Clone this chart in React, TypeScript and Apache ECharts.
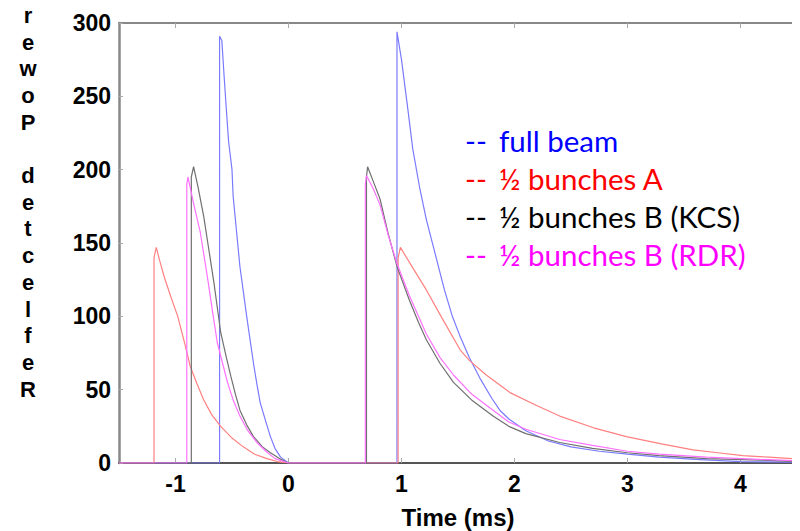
import React, { useEffect, useRef } from "react";
import * as echarts from "echarts";

// time (ms), reflected power
const fullBeam: [number, number][] = [
  [-1.5, 0], [-0.61, 0], [-0.61, 291], [-0.59, 288], [-0.57, 264], [-0.55, 241], [-0.53, 219],
  [-0.50, 200], [-0.49, 182], [-0.47, 166], [-0.43, 134], [-0.40, 117], [-0.37, 100],
  [-0.34, 84], [-0.31, 68], [-0.28, 54], [-0.25, 41], [-0.20, 28], [-0.16, 18], [-0.12, 10],
  [-0.07, 4], [0, 0],
  [0.96, 0], [0.96, 294], [1.0, 275], [1.05, 245], [1.1, 214], [1.16, 188], [1.22, 166],
  [1.31, 139], [1.38, 118], [1.45, 100], [1.52, 86], [1.6, 72], [1.7, 57], [1.8, 44],
  [1.87, 36], [1.95, 30], [2.1, 22], [2.3, 15], [2.5, 11], [2.75, 8], [3.0, 6], [3.28, 4],
  [3.6, 2.5], [4.0, 1], [4.5, 0.5],
];
const halfBunchesA: [number, number][] = [
  [-1.5, 0], [-1.19, 0], [-1.19, 140], [-1.17, 147], [-1.14, 138], [-1.10, 127], [-1.04, 113],
  [-0.98, 100], [-0.92, 82], [-0.87, 66], [-0.81, 54], [-0.75, 43], [-0.68, 33], [-0.60, 25],
  [-0.50, 17], [-0.40, 11], [-0.30, 6], [-0.19, 3], [-0.10, 1], [0, 0],
  [0.97, 0], [0.97, 140], [0.99, 147], [1.1, 133], [1.22, 118], [1.35, 100], [1.52, 77],
  [1.6, 70], [1.75, 60], [1.96, 48], [2.2, 39], [2.4, 32], [2.7, 24], [2.99, 18], [3.3, 13],
  [3.58, 9], [3.8, 7], [4.02, 5], [4.25, 4], [4.46, 3], [4.5, 3],
];
const halfBunchesBKCS: [number, number][] = [
  [-1.5, 0], [-0.86, 0], [-0.86, 195], [-0.84, 202], [-0.80, 188], [-0.75, 168], [-0.70, 143],
  [-0.66, 123], [-0.60, 89], [-0.55, 72], [-0.51, 59], [-0.47, 47], [-0.43, 36], [-0.37, 26],
  [-0.31, 18], [-0.23, 11], [-0.16, 7], [-0.08, 3], [0, 0],
  [0.69, 0], [0.69, 195], [0.70, 202], [0.75, 192], [0.81, 180], [0.88, 157], [0.96, 134],
  [1.07, 111], [1.15, 96], [1.22, 84], [1.34, 68], [1.46, 55], [1.62, 43], [1.81, 32],
  [1.95, 25], [2.1, 20], [2.4, 14], [2.69, 10], [3.0, 7], [3.28, 5], [3.7, 3], [4.17, 2],
  [4.5, 1],
];
const halfBunchesBRDR: [number, number][] = [
  [-1.5, 0], [-0.90, 0], [-0.90, 190], [-0.89, 195], [-0.84, 177], [-0.78, 157], [-0.71, 123],
  [-0.67, 102], [-0.63, 82], [-0.58, 67], [-0.54, 55], [-0.49, 43], [-0.43, 32], [-0.36, 22],
  [-0.28, 14], [-0.20, 8], [-0.12, 3], [0, 0],
  [0.68, 0], [0.68, 190], [0.69, 196], [0.75, 187], [0.81, 176], [0.88, 156], [0.96, 136],
  [1.07, 114], [1.15, 100], [1.22, 88], [1.34, 72], [1.46, 60], [1.62, 47], [1.81, 36],
  [1.95, 28], [2.1, 23], [2.4, 16], [2.69, 12], [3.0, 8], [3.28, 6], [3.7, 4], [4.17, 2.5],
  [4.5, 1.5],
];

const xTicks = [-1, 0, 1, 2, 3, 4];
const legendLabels = ["full beam", "\u00bd bunches A", "\u00bd bunches B (KCS)", "\u00bd bunches B (RDR)"];
const legendColors = ["#0000ff", "#ff0000", "#000000", "#ff00ff"];
const lineColors = ["#7a7aff", "#ff8080", "#707070", "#ff70ff"];
const seriesData = [fullBeam, halfBunchesA, halfBunchesBKCS, halfBunchesBRDR];
const yTitle = "Reflected Power";
const xTitle = "Time (ms)";

export default function App() {
  const ref = useRef<HTMLDivElement>(null);
  useEffect(() => {
    if (!ref.current) return;
    const chart = echarts.init(ref.current, null, { renderer: "svg" });
    const labelFont = {
      fontFamily: "Liberation Sans",
      fontWeight: "bold" as const,
      fontSize: 23,
      color: "#000",
    };
    const stacked = yTitle.split("").reverse().join("").split(" ").map((w) => w.split("").join("\n")).join("\n\n");
    const legendGraphics: any[] = [];
    legendLabels.forEach((lab, i) => {
      const y = 142 + i * 38.3;
      legendGraphics.push({
        type: "text", left: 465, top: y - 17,
        style: { text: "--", fill: legendColors[i], font: "29.5px Lato" },
      });
      legendGraphics.push({
        type: "text", left: 499, top: y - 17,
        style: { text: lab, fill: legendColors[i], font: "29.5px Lato" },
      });
    });
    chart.setOption({
      animation: false,
      grid: { left: 119, right: 3, top: 23, bottom: 68 },
      xAxis: [
        {
          type: "value", min: -1.5, max: 4.5, position: "bottom",
          axisLine: { onZero: false, lineStyle: { color: "#555", width: 2 } },
          axisTick: { inside: true, length: 5, customValues: xTicks, lineStyle: { color: "#aaa" } },
          axisLabel: { customValues: xTicks, margin: 9, ...labelFont },
          splitLine: { show: false },
        },
        {
          type: "value", min: -1.5, max: 4.5, position: "top",
          axisLine: { onZero: false, lineStyle: { color: "#888", width: 2 } },
          axisTick: { inside: true, length: 5, customValues: xTicks, lineStyle: { color: "#aaa" } },
          axisLabel: { show: false },
          splitLine: { show: false },
        },
      ],
      yAxis: [
        {
          type: "value", min: 0, max: 300, interval: 50, position: "left",
          axisLine: { show: true, onZero: false, lineStyle: { color: "#888", width: 2.5 } },
          axisTick: { show: true, inside: true, length: 4, lineStyle: { color: "#aaa" } },
          axisLabel: { margin: 8, ...labelFont },
          splitLine: { show: false },
        },
        {
          type: "value", min: 0, max: 300, interval: 50, position: "right",
          axisLine: { show: true, onZero: false, lineStyle: { color: "#888", width: 2 } },
          axisTick: { show: true, inside: true, length: 4, lineStyle: { color: "#aaa" } },
          axisLabel: { show: false },
          splitLine: { show: false },
        },
      ],
      series: seriesData.map((d, i) => ({
        type: "line",
        data: d,
        xAxisIndex: 0,
        yAxisIndex: 0,
        showSymbol: false,
        symbol: "none",
        lineStyle: { color: lineColors[i], width: 1.2 },
        z: 2 + i,
      })),
      graphic: [
        {
          type: "text", x: 28, y: 2,
          style: {
            text: stacked, fill: "#000", font: "bold 22px Liberation Sans",
            align: "center", verticalAlign: "top", lineHeight: 26.7,
          },
        },
        {
          type: "text", x: 458, y: 517,
          style: {
            text: xTitle, fill: "#000", font: "bold 24px Liberation Sans",
            align: "center", verticalAlign: "middle",
          },
        },
        ...legendGraphics,
      ],
    });
    return () => chart.dispose();
  }, []);
  return <div ref={ref} style={{ width: 800, height: 531, marginLeft: -8, marginTop: -8 }} />;
}
